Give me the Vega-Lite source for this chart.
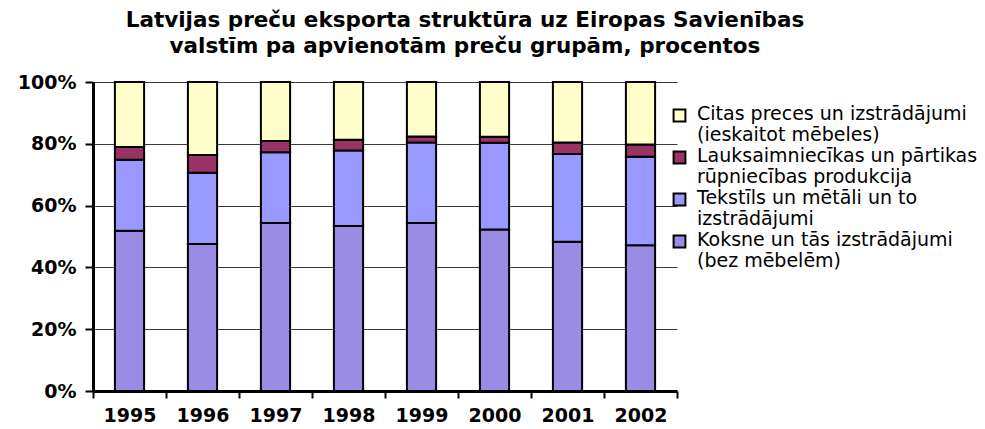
{
  "$schema": "https://vega.github.io/schema/vega-lite/v6.json",
  "width": 584,
  "height": 309,
  "autosize": {"type": "none"},
  "padding": {"left": 93, "top": 82, "right": 308, "bottom": 38},
  "background": "white",
  "title": {
    "text": ["Latvijas preču eksporta struktūra uz Eiropas Savienības", "valstīm pa apvienotām preču grupām, procentos"],
    "font": "DejaVu Sans",
    "fontWeight": "bold",
    "fontSize": 21.5,
    "lineHeight": 26,
    "color": "black",
    "anchor": "middle",
    "frame": "group",
    "dx": 80,
    "offset": 16
  },
  "data": {
    "values": [
      {"gads": "1995", "grupa": "Koksne un tās izstrādājumi\n(bez mēbelēm)", "proc": 51.9, "k": 1},
      {"gads": "1995", "grupa": "Tekstīls un mētāli un to\nizstrādājumi", "proc": 22.9, "k": 2},
      {"gads": "1995", "grupa": "Lauksaimniecīkas un pārtikas\nrūpniecības produkcija", "proc": 4.2, "k": 3},
      {"gads": "1995", "grupa": "Citas preces un izstrādājumi\n(ieskaitot mēbeles)", "proc": 21.0, "k": 4},
      {"gads": "1996", "grupa": "Koksne un tās izstrādājumi\n(bez mēbelēm)", "proc": 47.6, "k": 1},
      {"gads": "1996", "grupa": "Tekstīls un mētāli un to\nizstrādājumi", "proc": 23.0, "k": 2},
      {"gads": "1996", "grupa": "Lauksaimniecīkas un pārtikas\nrūpniecības produkcija", "proc": 5.8, "k": 3},
      {"gads": "1996", "grupa": "Citas preces un izstrādājumi\n(ieskaitot mēbeles)", "proc": 23.6, "k": 4},
      {"gads": "1997", "grupa": "Koksne un tās izstrādājumi\n(bez mēbelēm)", "proc": 54.4, "k": 1},
      {"gads": "1997", "grupa": "Tekstīls un mētāli un to\nizstrādājumi", "proc": 22.9, "k": 2},
      {"gads": "1997", "grupa": "Lauksaimniecīkas un pārtikas\nrūpniecības produkcija", "proc": 3.6, "k": 3},
      {"gads": "1997", "grupa": "Citas preces un izstrādājumi\n(ieskaitot mēbeles)", "proc": 19.1, "k": 4},
      {"gads": "1998", "grupa": "Koksne un tās izstrādājumi\n(bez mēbelēm)", "proc": 53.4, "k": 1},
      {"gads": "1998", "grupa": "Tekstīls un mētāli un to\nizstrādājumi", "proc": 24.4, "k": 2},
      {"gads": "1998", "grupa": "Lauksaimniecīkas un pārtikas\nrūpniecības produkcija", "proc": 3.5, "k": 3},
      {"gads": "1998", "grupa": "Citas preces un izstrādājumi\n(ieskaitot mēbeles)", "proc": 18.7, "k": 4},
      {"gads": "1999", "grupa": "Koksne un tās izstrādājumi\n(bez mēbelēm)", "proc": 54.4, "k": 1},
      {"gads": "1999", "grupa": "Tekstīls un mētāli un to\nizstrādājumi", "proc": 26.0, "k": 2},
      {"gads": "1999", "grupa": "Lauksaimniecīkas un pārtikas\nrūpniecības produkcija", "proc": 2.0, "k": 3},
      {"gads": "1999", "grupa": "Citas preces un izstrādājumi\n(ieskaitot mēbeles)", "proc": 17.6, "k": 4},
      {"gads": "2000", "grupa": "Koksne un tās izstrādājumi\n(bez mēbelēm)", "proc": 52.3, "k": 1},
      {"gads": "2000", "grupa": "Tekstīls un mētāli un to\nizstrādājumi", "proc": 28.0, "k": 2},
      {"gads": "2000", "grupa": "Lauksaimniecīkas un pārtikas\nrūpniecības produkcija", "proc": 2.0, "k": 3},
      {"gads": "2000", "grupa": "Citas preces un izstrādājumi\n(ieskaitot mēbeles)", "proc": 17.7, "k": 4},
      {"gads": "2001", "grupa": "Koksne un tās izstrādājumi\n(bez mēbelēm)", "proc": 48.3, "k": 1},
      {"gads": "2001", "grupa": "Tekstīls un mētāli un to\nizstrādājumi", "proc": 28.4, "k": 2},
      {"gads": "2001", "grupa": "Lauksaimniecīkas un pārtikas\nrūpniecības produkcija", "proc": 3.7, "k": 3},
      {"gads": "2001", "grupa": "Citas preces un izstrādājumi\n(ieskaitot mēbeles)", "proc": 19.6, "k": 4},
      {"gads": "2002", "grupa": "Koksne un tās izstrādājumi\n(bez mēbelēm)", "proc": 47.2, "k": 1},
      {"gads": "2002", "grupa": "Tekstīls un mētāli un to\nizstrādājumi", "proc": 28.6, "k": 2},
      {"gads": "2002", "grupa": "Lauksaimniecīkas un pārtikas\nrūpniecības produkcija", "proc": 4.0, "k": 3},
      {"gads": "2002", "grupa": "Citas preces un izstrādājumi\n(ieskaitot mēbeles)", "proc": 20.2, "k": 4}
    ]
  },
  "mark": {"type": "bar", "width": {"band": 0.4}, "stroke": "black", "strokeWidth": 2, "opacity": 1},
  "encoding": {
    "x": {
      "field": "gads",
      "type": "ordinal",
      "scale": {"paddingInner": 0, "paddingOuter": 0},
      "axis": {
        "title": null,
        "labelAngle": 0,
        "labelFont": "DejaVu Sans",
        "labelFontWeight": "bold",
        "labelFontSize": 19,
        "labelColor": "black",
        "labelPadding": 19,
        "tickBand": "extent",
        "tickColor": "black",
        "tickWidth": 2,
        "tickSize": 7,
        "domainColor": "black",
        "domainWidth": 3,
        "grid": false
      }
    },
    "y": {
      "field": "proc",
      "type": "quantitative",
      "stack": "normalize",
      "scale": {"domain": [0, 1], "nice": false},
      "axis": {
        "title": null,
        "values": [0, 0.2, 0.4, 0.6, 0.8, 1],
        "format": ".0%",
        "labelFont": "DejaVu Sans",
        "labelFontWeight": "bold",
        "labelFontSize": 19,
        "labelColor": "black",
        "labelPadding": 9,
        "labelOffset": 11,
        "tickColor": "black",
        "tickWidth": 2,
        "tickSize": 8,
        "domainColor": "black",
        "domainWidth": 3,
        "grid": true,
        "gridColor": "#3a3a3a",
        "gridWidth": 1,
        "gridOpacity": 1
      }
    },
    "color": {
      "field": "grupa",
      "type": "nominal",
      "scale": {
        "domain": [
          "Citas preces un izstrādājumi\n(ieskaitot mēbeles)",
          "Lauksaimniecīkas un pārtikas\nrūpniecības produkcija",
          "Tekstīls un mētāli un to\nizstrādājumi",
          "Koksne un tās izstrādājumi\n(bez mēbelēm)"
        ],
        "range": ["#FFFFCC", "#993366", "#9999FF", "#9A8BE4"]
      },
      "legend": {
        "title": null,
        "orient": "none",
        "legendX": 577,
        "legendY": 24,
        "labelExpr": "split(datum.label, '\\n')",
        "labelFont": "DejaVu Sans",
        "labelFontSize": 19,
        "labelColor": "black",
        "labelLimit": 400,
        "labelOffset": 8,
        "labelBaseline": "top",
        "symbolType": "square",
        "symbolSize": 140,
        "symbolStrokeColor": "black",
        "symbolStrokeWidth": 2,
        "symbolOpacity": 1,
        "rowPadding": 0
      }
    },
    "order": {"field": "k", "type": "quantitative", "sort": "ascending"}
  },
  "config": {
    "view": {"stroke": null},
    "style": {"guide-label": {"lineHeight": 21.7, "dy": -11}}
  }
}
